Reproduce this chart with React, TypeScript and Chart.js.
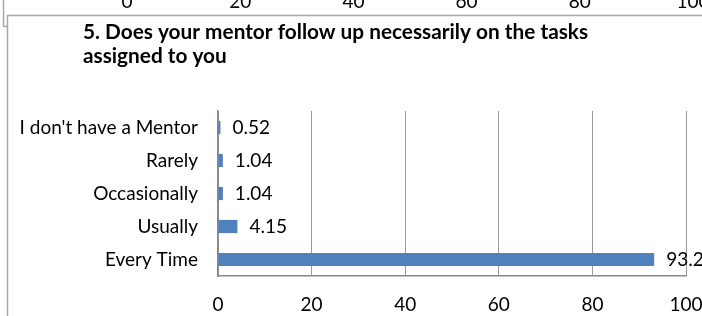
import React, { useEffect, useRef } from "react";
import { Chart, registerables } from "chart.js";

Chart.register(...registerables);

const categories = ["I don't have a Mentor", "Rarely", "Occasionally", "Usually", "Every Time"];
const values = [0.52, 1.04, 1.04, 4.15, 93.2];
const valueLabels = ["0.52", "1.04", "1.04", "4.15", "93.2"];
const titleLines = ["5. Does your mentor follow up necessarily on the tasks", "assigned to you"];
const prevChartTicks = ["0", "20", "40", "60", "80", "100"];

const FONT = "Lato, 'Open Sans', sans-serif";

const decorPlugin = {
  id: "decor",
  afterDraw(chart: any) {
    const ctx = chart.ctx;
    ctx.save();
    // frames
    ctx.strokeStyle = "#a6a6a6";
    ctx.lineWidth = 1.5;
    ctx.beginPath();
    ctx.moveTo(3.5, 0);
    ctx.lineTo(3.5, 26.5);
    ctx.lineTo(7.5, 26.5);
    ctx.stroke();
    ctx.beginPath();
    ctx.moveTo(702, 15.5);
    ctx.lineTo(7.5, 15.5);
    ctx.lineTo(7.5, 316);
    ctx.stroke();
    // previous chart's cut-off tick labels
    ctx.fillStyle = "#000";
    ctx.font = `19px ${FONT}`;
    ctx.textAlign = "center";
    ctx.textBaseline = "alphabetic";
    const x0 = 127, x1 = 693;
    prevChartTicks.forEach((t, i) => {
      const x = x0 + ((x1 - x0) * i) / (prevChartTicks.length - 1);
      ctx.fillText(t, x, 8);
    });
    // title
    ctx.font = `bold 20.8px ${FONT}`;
    ctx.textAlign = "left";
    titleLines.forEach((line, i) => {
      ctx.fillText(line, 83, 39 + i * 24);
    });
    // data labels
    ctx.font = `19px ${FONT}`;
    ctx.textBaseline = "middle";
    const meta = chart.getDatasetMeta(0);
    meta.data.forEach((bar: any, i: number) => {
      ctx.fillText(valueLabels[i], bar.x + 12, bar.y);
    });
    ctx.restore();
  },
};

export default function App() {
  const ref = useRef<HTMLCanvasElement>(null);
  useEffect(() => {
    if (!ref.current) return;
    const chart = new Chart(ref.current, {
      type: "bar",
      data: {
        labels: categories,
        datasets: [
          {
            data: values,
            backgroundColor: "#4f81bd",
            borderWidth: 0,
            categoryPercentage: 0.4,
            barPercentage: 1,
          },
        ],
      },
      options: {
        indexAxis: "y",
        animation: false,
        responsive: false,
        devicePixelRatio: 1,
        layout: { padding: { left: 8, top: 111, right: 0, bottom: 0 } },
        plugins: {
          legend: { display: false },
          title: { display: false },
          tooltip: { enabled: false },
        },
        scales: {
          x: {
            min: 0,
            max: 100,
            ticks: { stepSize: 20, color: "#000", font: { family: FONT, size: 19 }, padding: 17, maxRotation: 0 },
            grid: { color: "#9a9a9a", drawTicks: false, lineWidth: 1 },
            border: { display: true, color: "#868686", width: 1.5 },
            afterFit: (s: any) => {
              s.height = 40;
              s.paddingRight = 16;
            },
          },
          y: {
            ticks: { color: "#000", font: { family: FONT, size: 19 }, padding: 20 },
            grid: { display: false, drawTicks: false },
            border: { display: true, color: "#868686", width: 1.5 },
            afterFit: (s: any) => {
              s.width = 210;
            },
          },
        },
      },
      plugins: [decorPlugin],
    });
    return () => chart.destroy();
  }, []);
  return (
    <div style={{ position: "absolute", left: 0, top: 0, width: 702, height: 316, background: "#fff" }}>
      <canvas ref={ref} width={702} height={316} style={{ display: "block" }} />
    </div>
  );
}
